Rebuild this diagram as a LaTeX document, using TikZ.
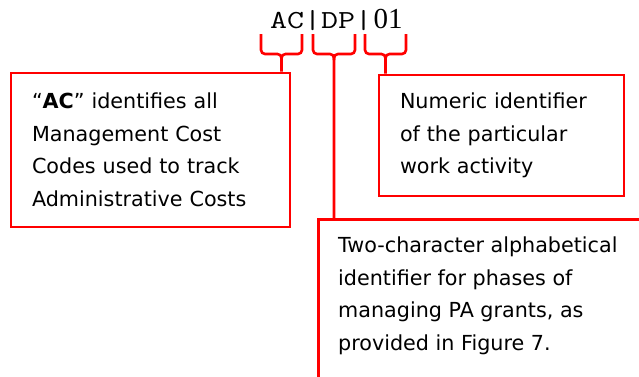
\documentclass[tikz,border=0pt]{standalone}
\usepackage{fontspec}
\setmainfont{DejaVu Sans}
\newfontfamily\codefont{Latin Modern Mono}[FakeStretch=1.27]
\newfontfamily\numfont{Liberation Serif}
\usepackage{xcolor}
\definecolor{cbred}{RGB}{255,0,0}
\usepackage{tikz}
\usetikzlibrary{positioning}

\begin{document}
\begin{tikzpicture}[x=1pt, y=-1pt,
  notebox/.style={draw=cbred, line width=2.6pt, fill=white, inner xsep=21pt, inner ysep=0pt,
    align=left, font=\fontsize{20.7}{32.5}\selectfont},
  notetext/.style={inner sep=0pt, align=left, anchor=north west, font=\fontsize{20.7}{32.5}\selectfont},
  brace/.style={cbred, line width=2.6pt, rounded corners=4pt}]
  \useasboundingbox (0,0) rectangle (639,376);
  \clip (0,0) rectangle (639,376);

  % Code string
  \node[font=\codefont\fontsize{26}{30}\selectfont, inner sep=0pt, anchor=base west] (code) at (270,28.5) {AC|DP|};
  \node[font=\numfont\fontsize{29}{30}\selectfont, inner sep=0pt, anchor=base west] (num) at ([xshift=1pt]code.base east) {01};

  % Boxes
  \node[notebox, minimum width=279pt, minimum height=154pt, text width=237pt] (acbox) at (150.5,150)
    {“\textbf{AC}” identifies all\\ Management Cost\\ Codes used to track\\ Administrative Costs};
  \node[notebox, minimum width=245pt, minimum height=121pt, text width=203pt] (numbox) at (501.5,135.5)
    {Numeric identifier\\ of the particular\\ work activity};
  \node[notebox, minimum width=340pt, minimum height=190pt, anchor=north west] (dpbox) at (317,218) {};
  \node[notetext] (dptext) at ([xshift=21pt, yshift=-19pt]dpbox.north west)
    {Two-character alphabetical\\ identifier for phases of\\ managing PA grants, as\\ provided in Figure 7.};

  % Braces
  \coordinate (acfork) at (281.5,54);
  \coordinate (dpfork) at (334,54);
  \coordinate (numfork) at (385.5,54);
  \draw[brace] (261,34) -- (261,54) -- (acfork) -- (acfork |- acbox.north);
  \draw[brace] (302,34) -- (302,54) -- (acfork) -- ++(0,6);
  \draw[brace] (313,34) -- (313,54) -- (dpfork) -- (dpfork |- dpbox.north);
  \draw[brace] (355,34) -- (355,54) -- (dpfork) -- ++(0,6);
  \draw[brace] (365,34) -- (365,54) -- (numfork) -- (numfork |- numbox.north);
  \draw[brace] (406,34) -- (406,54) -- (numfork) -- ++(0,6);
\end{tikzpicture}
\end{document}
